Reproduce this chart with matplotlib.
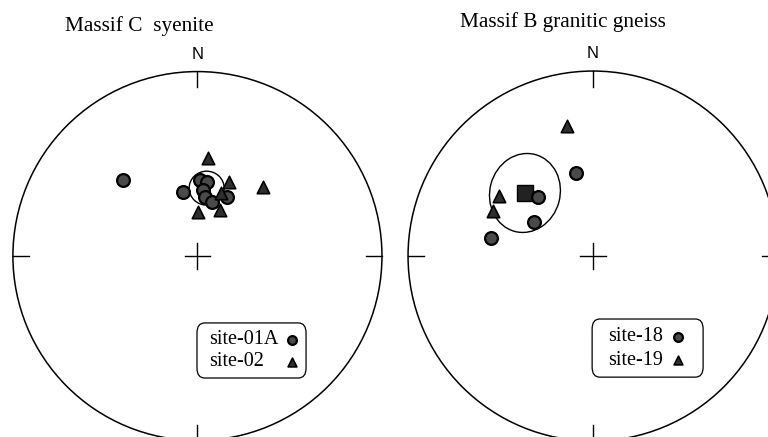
import numpy as np
import matplotlib
matplotlib.use("Agg")
import matplotlib.pyplot as plt
from matplotlib.patches import Circle, Ellipse, FancyBboxPatch

# Equal-area net positions (east, north), unit radius = primitive circle
titles = ["Massif C  syenite", "Massif B granitic gneiss"]
labels_a = ["site-01A", "site-18"]
labels_b = ["site-02", "site-19"]

# Massif C
c_site01_e = [-0.404, -0.079, 0.014, 0.051, 0.030, 0.041, 0.079, 0.160]
c_site01_n = [0.412, 0.347, 0.412, 0.401, 0.358, 0.320, 0.293, 0.320]
c_site02_e = [0.057, 0.171, 0.127, 0.355, 0.003, 0.122]
c_site02_n = [0.531, 0.401, 0.341, 0.374, 0.238, 0.249]
c_mean = (0.050, 0.368)
c_a95 = (0.095, 0.092, 0.0)   # semi-axes + tilt

# Massif B
b_site18_e = [-0.092, -0.297, -0.319, -0.551]
b_site18_n = [0.449, 0.319, 0.184, 0.097]
b_site19_e = [-0.141, -0.508, -0.541]
b_site19_n = [0.703, 0.324, 0.243]
b_mean = (-0.368, 0.341)
b_a95 = (0.19, 0.215, -15.0)

serif = "Liberation Serif"
sans = "Liberation Sans"

fig = plt.figure(figsize=(7.68, 4.37), dpi=100)

# axes limits chosen so one data unit = net radius in pixels
panels = [
    dict(pos=[0.0, 0.0, 0.5, 1.0], xlim=(-1.070, 1.011), ylim=(-0.981, 1.388),
         title_xy=(-0.317, 1.245),
         box=(0.513, 0.135, 0.284, 0.126), txt_x=0.544, key_x=0.760,
         rows=(0.222, 0.172),
         a=(c_site01_e, c_site01_n), b=(c_site02_e, c_site02_n),
         mean=c_mean, a95=c_a95, show_mean=False),
    dict(pos=[0.5, 0.0, 0.5, 1.0], xlim=(-1.130, 0.946), ylim=(-0.978, 1.384),
         title_xy=(-0.162, 1.265),
         box=(0.542, 0.137, 0.289, 0.133), txt_x=0.583, key_x=0.766,
         rows=(0.229, 0.176),
         a=(b_site18_e, b_site18_n), b=(b_site19_e, b_site19_n),
         mean=b_mean, a95=b_a95, show_mean=True),
]

circ_style = dict(marker="o", facecolor="#4a4a4a", edgecolor="black", lw=1.6)
tri_style = dict(marker="^", facecolor="#2e2e2e", edgecolor="black", lw=1.2)

for i, p in enumerate(panels):
    ax = fig.add_axes(p["pos"])
    ax.set_xlim(*p["xlim"])
    ax.set_ylim(*p["ylim"])
    ax.axis("off")

    # primitive circle, ticks and centre cross
    ax.add_patch(Circle((0, 0), 1.0, fill=False, lw=1.1, color="black"))
    t = 0.085
    for x0, y0, x1, y1 in [(0, 1, 0, 1 - t), (0, -1, 0, -1 + t),
                           (-1, 0, -1 + t, 0), (1, 0, 1 - t, 0),
                           (-0.07, 0, 0.07, 0), (0, -0.07, 0, 0.07)]:
        ax.plot([x0, x1], [y0, y1], color="black", lw=1.0)

    ax.text(0, 1.095, "N", family=sans, fontsize=12, ha="center", va="center")
    ax.text(*p["title_xy"], titles[i], family=serif, fontsize=15.3,
            ha="center", va="center")

    # confidence ellipse around the mean direction
    w, h, ang = p["a95"]
    ax.add_patch(Ellipse(p["mean"], 2 * w, 2 * h, angle=ang, fill=False,
                         lw=1.0, color="black"))
    if p["show_mean"]:
        ax.scatter(*p["mean"], marker="s", s=120, facecolor="#222222",
                   edgecolor="black", lw=1.0, zorder=4)

    ax.scatter(*p["a"], s=85, zorder=5, **circ_style)
    ax.scatter(*p["b"], s=80, zorder=6, **tri_style)

    # key box: labels left, symbols right
    bx, by, bw, bh = p["box"]
    ax.add_patch(FancyBboxPatch((bx, by), bw, bh, transform=ax.transAxes,
                                boxstyle="round,pad=0,rounding_size=0.02",
                                fill=False, lw=0.9, edgecolor="black",
                                mutation_aspect=437 / 384))
    for lab, yy, st in [(labels_a[i], p["rows"][0], circ_style),
                        (labels_b[i], p["rows"][1], tri_style)]:
        ax.text(p["txt_x"], yy, lab, transform=ax.transAxes, family=serif,
                fontsize=14.5, ha="left", va="center")
        ax.scatter([p["key_x"]], [yy], s=40, transform=ax.transAxes,
                   zorder=7, **st)

fig.savefig("out.png", dpi=100)
